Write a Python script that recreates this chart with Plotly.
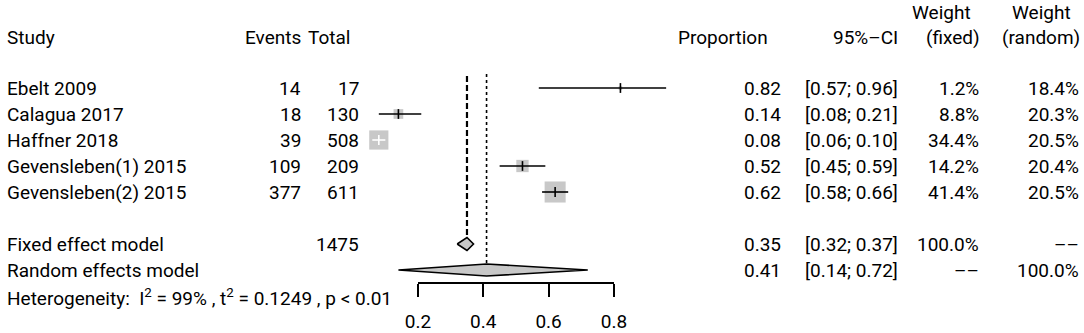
import plotly.graph_objects as go

# ---------------- data ----------------
studies = ["Ebelt 2009", "Calagua 2017", "Haffner 2018", "Gevensleben(1) 2015", "Gevensleben(2) 2015"]
events = [14, 18, 39, 109, 377]
totals = [17, 130, 508, 209, 611]
prop = [0.82, 0.14, 0.08, 0.52, 0.62]
ci_lo = [0.57, 0.08, 0.06, 0.45, 0.58]
ci_hi = [0.96, 0.21, 0.10, 0.59, 0.66]
w_fixed = [1.2, 8.8, 34.4, 14.2, 41.4]
w_random = [18.4, 20.3, 20.5, 20.4, 20.5]

fixed_total = 1475
fixed_est, fixed_lo, fixed_hi = 0.35, 0.32, 0.37
random_est, random_lo, random_hi = 0.41, 0.14, 0.72
heterogeneity = "Heterogeneity:  I<sup>2</sup> = 99% , t<sup>2</sup> = 0.1249 , p < 0.01"
tick_vals = [0.2, 0.4, 0.6, 0.8]

# ---------------- layout geometry ----------------
W, H = 1084, 333
X0_PX, UNIT_PX = 352.7, 326.5          # pixel of proportion 0, pixels per unit
xr = [-X0_PX / UNIT_PX, (W - X0_PX) / UNIT_PX]
row_y = [88, 114, 140, 166, 192]
fixed_y, random_y, het_y = 244, 270, 297
head_y, head1_y = 37, 12
AXIS_Y = 283

FONT = "Roboto"
FS = 19
BOX_GRAY = "#c8c8c8"
DASH = "–"

fig = go.Figure()

# study CI lines, boxes and point ticks
for i in range(len(studies)):
    side = 3.27 * (w_fixed[i] ** 0.5)
    box_lo = prop[i] - side / 2 / UNIT_PX
    box_hi = prop[i] + side / 2 / UNIT_PX
    inside = ci_lo[i] >= box_lo and ci_hi[i] <= box_hi
    col = "white" if inside else "black"
    fig.add_trace(go.Scatter(x=[prop[i]], y=[row_y[i]], mode="markers",
                             marker=dict(symbol="square", size=side, color=BOX_GRAY, line=dict(width=0)),
                             hoverinfo="skip", showlegend=False))
    fig.add_trace(go.Scatter(x=[ci_lo[i], ci_hi[i]], y=[row_y[i], row_y[i]], mode="lines",
                             line=dict(color=col, width=1.6), hoverinfo="skip", showlegend=False))
    fig.add_trace(go.Scatter(x=[prop[i]], y=[row_y[i]], mode="markers",
                             marker=dict(symbol="line-ns", size=7, line=dict(color=col, width=1.6)),
                             hoverinfo="skip", showlegend=False))

# reference lines
fig.add_trace(go.Scatter(x=[fixed_est, fixed_est], y=[76, fixed_y - 6.5], mode="lines",
                         line=dict(color="black", width=2.2, dash="6px,3px"), hoverinfo="skip", showlegend=False))
fig.add_trace(go.Scatter(x=[random_est, random_est], y=[74, random_y - 6], mode="lines",
                         line=dict(color="black", width=1.6, dash="dot"), hoverinfo="skip", showlegend=False))

# diamonds
for est, lo, hi, y, hh in [(fixed_est, fixed_lo, fixed_hi, fixed_y, 6.5),
                           (random_est, random_lo, random_hi, random_y, 6)]:
    fig.add_trace(go.Scatter(x=[lo, est, hi, est, lo], y=[y, y - hh, y, y + hh, y], mode="lines",
                             fill="toself", fillcolor=BOX_GRAY, line=dict(color="black", width=1.6),
                             hoverinfo="skip", showlegend=False))

# dummy trace for the tick axis
fig.add_trace(go.Scatter(x=[0.5], y=[-1000], xaxis="x2", mode="markers", marker=dict(opacity=0),
                         hoverinfo="skip", showlegend=False))

# ---------------- text ----------------
ann = []
def txt(x, y, s, anchor="right", size=FS):
    ann.append(dict(x=x / W, y=y, xref="paper", yref="y", text=s, showarrow=False,
                    xanchor=anchor, yanchor="middle", font=dict(family=FONT, size=size, color="black")))

txt(5, head_y, "Study", "left")
txt(303, head_y, "Events")
txt(352, head_y, "Total")
txt(770, head_y, "Proportion")
txt(900, head_y, "95%" + DASH + "CI")
txt(973, head1_y, "Weight")
txt(982, head_y, "(fixed)")
txt(1073, head1_y, "Weight")
txt(1082, head_y, "(random)")

for i in range(len(studies)):
    y = row_y[i]
    txt(5, y, studies[i], "left")
    txt(303, y, str(events[i]))
    txt(361, y, str(totals[i]))
    txt(783, y, f"{prop[i]:.2f}")
    txt(900, y, f"[{ci_lo[i]:.2f}; {ci_hi[i]:.2f}]")
    txt(981, y, f"{w_fixed[i]:.1f}%")
    txt(1081, y, f"{w_random[i]:.1f}%")

txt(5, fixed_y, "Fixed effect model", "left")
txt(361, fixed_y, str(fixed_total))
txt(783, fixed_y, f"{fixed_est:.2f}")
txt(900, fixed_y, f"[{fixed_lo:.2f}; {fixed_hi:.2f}]")
txt(981, fixed_y, "100.0%")
txt(1081, fixed_y, DASH + DASH)

txt(5, random_y, "Random effects model", "left")
txt(783, random_y, f"{random_est:.2f}")
txt(900, random_y, f"[{random_lo:.2f}; {random_hi:.2f}]")
txt(981, random_y, DASH + DASH)
txt(1081, random_y, "100.0%")

txt(5, het_y, heterogeneity, "left", FS)

dom = [(X0_PX + tick_vals[0] * UNIT_PX) / W, (X0_PX + tick_vals[-1] * UNIT_PX) / W]

fig.update_layout(
    width=W, height=H, margin=dict(l=0, r=0, t=0, b=0, autoexpand=False),
    paper_bgcolor="white", plot_bgcolor="rgba(0,0,0,0)",
    xaxis=dict(range=xr, visible=False, domain=[0, 1], fixedrange=True),
    yaxis=dict(range=[H, 0], visible=False, domain=[0, 1], fixedrange=True),
    xaxis2=dict(domain=dom, range=[tick_vals[0], tick_vals[-1]], anchor="free",
                position=(H - AXIS_Y) / H, showline=True, linecolor="black", linewidth=1.6,
                ticks="outside", ticklen=13, tickwidth=1.6, tickcolor="black",
                tickvals=tick_vals, ticktext=[str(v) for v in tick_vals],
                tickfont=dict(family=FONT, size=FS, color="black"), showgrid=False, zeroline=False,
                ticklabelstandoff=8, fixedrange=True),
    annotations=ann,
    showlegend=False,
)

fig.write_html("out.html", config={"displayModeBar": False},
               post_script="document.body.style.margin='0';document.body.style.overflow='hidden';")
